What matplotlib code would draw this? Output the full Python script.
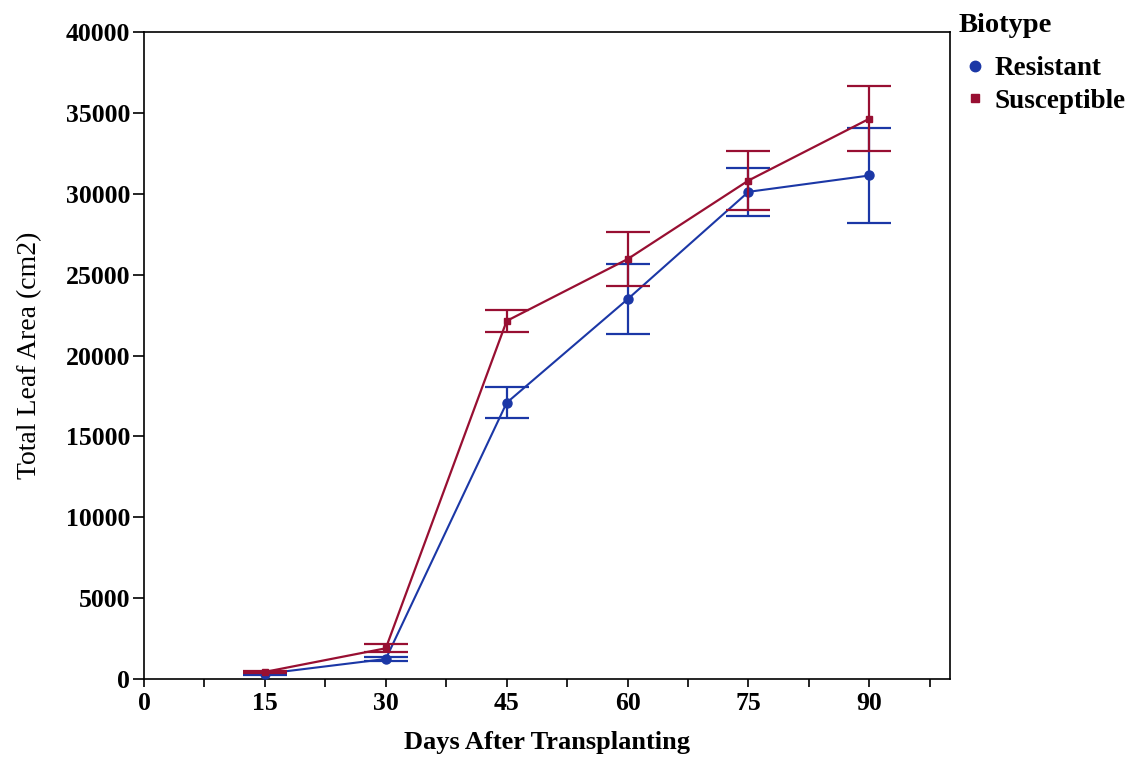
import numpy as np
import matplotlib.pyplot as plt

plt.rcParams['font.family'] = ['Liberation Serif', 'DejaVu Serif']

# dias despues del trasplante
days = [15, 30, 45, 60, 75, 90]

# area foliar total (cm2) y error por biotipo
resistant = [320, 1240, 17080, 23480, 30120, 31130]
resistant_err = [90, 140, 950, 2180, 1480, 2960]
susceptible = [440, 1900, 22140, 25960, 30820, 34640]
susceptible_err = [80, 240, 700, 1660, 1810, 2000]

blue = '#1b37a6'
red = '#980f32'

fig = plt.figure(figsize=(11.34, 7.57), dpi=100)
ax = fig.add_axes([0.127, 0.103, 0.7107, 0.8547])

ax.errorbar(days, resistant, yerr=resistant_err, color=blue, marker='o', ms=6.5,
            lw=1.5, elinewidth=1.6, capsize=15.5, capthick=1.6, label='Resistant', zorder=3)
ax.errorbar(days, susceptible, yerr=susceptible_err, color=red, marker='s', ms=5,
            lw=1.6, elinewidth=1.6, capsize=15.5, capthick=1.6, label='Susceptible', zorder=4)

ax.set_xlim(0, 100)
ax.set_ylim(0, 40000)
ax.set_xticks(np.arange(0, 91, 15))
ax.set_xticks(np.arange(7.5, 100, 15), minor=True)
ax.set_yticks(np.arange(0, 40001, 5000))
ax.tick_params(axis='both', labelsize=18.5, direction='out', width=1.2)
ax.tick_params(axis='y', length=8, pad=2)
ax.tick_params(axis='x', length=6, pad=3)
ax.tick_params(axis='x', which='minor', length=6, width=1.2)
for lbl in ax.get_xticklabels() + ax.get_yticklabels():
    lbl.set_fontweight('bold')
for s in ax.spines.values():
    s.set_linewidth(1.2)

ax.set_xlabel('Days After Transplanting', fontsize=19, fontweight='bold', labelpad=12)
ax.set_ylabel('Total Leaf Area (cm2)', fontsize=20, labelpad=17)

# leyenda solo con marcadores, fuera del grafico
fig.text(0.845, 0.966, 'Biotype', fontsize=20.5, fontweight='bold', va='center', ha='left')
h = [plt.Line2D([], [], color=blue, marker='o', ls='', ms=7.5),
     plt.Line2D([], [], color=red, marker='s', ls='', ms=6)]
leg = fig.legend(h, ['Resistant', 'Susceptible'], loc='upper left',
                 bbox_to_anchor=(0.848, 0.926), frameon=False,
                 prop={'weight': 'bold', 'size': 19.5},
                 borderpad=0, borderaxespad=0,
                 handletextpad=0.22, handlelength=1.0, labelspacing=0.28)

fig.savefig('out.png', dpi=100)
